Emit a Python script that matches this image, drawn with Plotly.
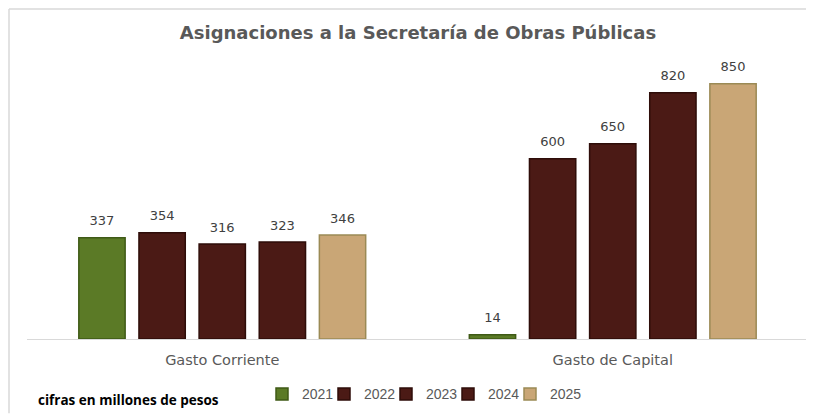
import plotly.graph_objects as go

categories = ["Gasto Corriente", "Gasto de Capital"]
years = ["2021", "2022", "2023", "2024", "2025"]
values = {
    "2021": [337, 14],
    "2022": [354, 600],
    "2023": [316, 650],
    "2024": [323, 820],
    "2025": [346, 850],
}
fill_colors = {
    "2021": "#5b7a26",
    "2022": "#4b1a15",
    "2023": "#4b1a15",
    "2024": "#4b1a15",
    "2025": "#c9a676",
}
edge_colors = {
    "2021": "#3f5a16",
    "2022": "#2e0d09",
    "2023": "#2e0d09",
    "2024": "#2e0d09",
    "2025": "#9b8a55",
}

OFF = 8  # page body margin
W, H = 814 - OFF, 417 - OFF
ml, mr, mt, mb = 27 - OFF, 6, 55 - OFF, 75
pw = W - ml - mr
ph = H - mt - mb

FONT = "DejaVu Sans, sans-serif"

fig = go.Figure()
for y in years:
    fig.add_trace(go.Bar(
        x=categories, y=values[y], name=y,
        offsetgroup=y, alignmentgroup="g",
        marker=dict(color=fill_colors[y], line=dict(color=edge_colors[y], width=1.5)),
    ))
for y in years:
    fig.add_trace(go.Scatter(
        x=categories, y=values[y], mode="markers+text", text=values[y],
        offsetgroup=y, alignmentgroup="g",
        textposition="top center", cliponaxis=False, showlegend=False, hoverinfo="skip",
        marker=dict(size=13, color="rgba(0,0,0,0)"),
        textfont=dict(family=FONT, size=13, color="#404040"),
    ))
# spacer so the last legend label is not clipped
fig.add_trace(go.Scatter(x=[None], y=[None], mode="markers", name=" ",
                         marker=dict(color="rgba(0,0,0,0)"), hoverinfo="skip"))

def px_x(p):
    return (p - OFF - ml) / pw

def px_y(p):
    return (H - mb - (p - OFF)) / ph

fig.update_layout(
    width=W, height=H,
    margin=dict(l=ml, r=mr, t=mt, b=mb),
    paper_bgcolor="white", plot_bgcolor="white",
    barmode="group", bargap=0.23, bargroupgap=0.23,
    scattermode="group", scattergap=0.23,
    title=dict(text="<b>Asignaciones a la Secretaría de Obras Públicas</b>",
               xref="paper", x=px_x(418), xanchor="center", y=1 - (33 - OFF) / H, yanchor="middle",
               font=dict(family=FONT, size=18, color="#595959")),
    xaxis=dict(showline=True, linecolor="#d9d9d9", linewidth=1, ticks="",
               tickfont=dict(family=FONT, size=14.5, color="#595959"),
               ticklabelstandoff=8, showgrid=False),
    yaxis=dict(range=[0, 850 * ph / 258], visible=False, showgrid=False),
    showlegend=True,
    legend=dict(orientation="h", x=px_x(262), xanchor="left", y=px_y(398), yanchor="middle",
                font=dict(family="Liberation Sans, sans-serif", size=14, color="#595959"),
                itemwidth=30, entrywidth=17, entrywidthmode="pixels", traceorder="normal"),
    annotations=[dict(text="<b>cifras en millones de pesos</b>", xref="paper", yref="paper",
                      x=px_x(36), y=px_y(404), xanchor="left", yanchor="middle", showarrow=False,
                      font=dict(family="Open Sans, sans-serif", size=13.5, color="#000000"))],
    shapes=[
        dict(type="line", xref="paper", yref="paper", x0=px_x(9), x1=px_x(814), y0=px_y(8.5), y1=px_y(8.5),
             line=dict(color="#d9d9d9", width=1.5)),
        dict(type="line", xref="paper", yref="paper", x0=px_x(9), x1=px_x(9), y0=px_y(8.5), y1=px_y(417),
             line=dict(color="#d9d9d9", width=1.5)),
    ],
)

fig.write_html("out.html")
